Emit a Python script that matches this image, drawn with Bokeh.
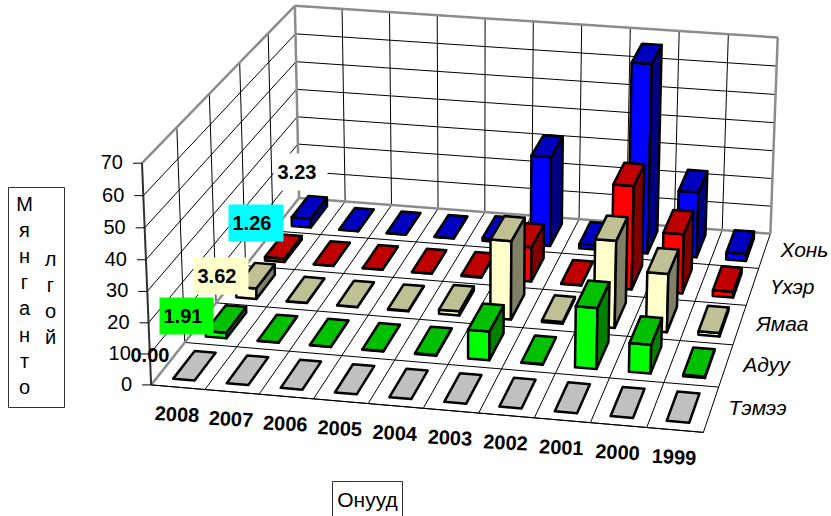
import numpy as np
from bokeh.plotting import figure
from bokeh.models import Range1d
from bokeh.core.properties import value
from bokeh.embed import file_html
from bokeh.resources import INLINE

years = ["2008","2007","2006","2005","2004","2003","2002","2001","2000","1999"]
series = ["Тэмээ","Адуу","Ямаа","Үхэр","Хонь"]
temee = [0,0,0,0,0,0,0,0,0,0]
aduu  = [1.91,0.1,0.1,0.1,0.3,9.5,0.2,20,9.5,0.5]
yamaa = [3.62,0.1,0.1,0.2,1.4,26.5,0.6,29.3,19.6,1.2]
ukher = [1.26,0.1,0.1,0.1,0.3,12,0.2,35.7,20.5,2]
khoni = [3.23,0.1,0.1,0.1,1,31.7,1.5,66.5,23,2.5]
values = [temee,aduu,yamaa,ukher,khoni]
front = ["#C0C0C0","#00FF00","#FFFFCC","#FF0000","#0000FF"]
top_c = ["#C0C0C0","#00C000","#C0C095","#C00000","#0000C0"]
side  = ["#909090","#008000","#808066","#800000","#000080"]
ticks = [0,10,20,30,40,50,60,70]
labels = ["0.00","1.91","3.62","1.26","3.23"]
label_bg = [None,"#00FF00","#FFFFCC","#00FFFF","#FFFFFF"]
label_box = [(126,336,180,372),(159,297,213,334),(193,257,248,294),(228,204,283,241),(273,153,327,190)]
series_pos = [(757,407),(766,364),(782,323),(792,286),(804,249)]
title_col1 = ["М","я","н","г","а","н","т","о"]
title_col2 = ["л","г","о","й"]

# camera calibration: box corners (year, depth, value) -> page pixels
anchors = [((0,0,0),(151,384)),((10,0,0),(703,432)),((0,5,0),(298,198)),((10,5,0),(770,233)),
           ((0,0,70),(141,163)),((0,5,70),(295,5)),((10,5,70),(777,37))]
A=[]
for (X,Y,Z),(u,v) in anchors:
    A.append([X,Y,Z,1,0,0,0,0,-u*X,-u*Y,-u*Z,-u])
    A.append([0,0,0,0,X,Y,Z,1,-v*X,-v*Y,-v*Z,-v])
P=np.linalg.svd(np.array(A,float))[2][-1].reshape(3,4)
def proj(X,Y,Z):
    h=P@np.array([X,Y,Z,1.0])
    return h[0]/h[2],h[1]/h[2]

p=figure(width=831,height=516,output_backend="svg",toolbar_location=None,
         x_range=Range1d(0,831),y_range=Range1d(516,0),min_border=0,outline_line_color=None,
         styles={"position":"absolute","left":"0px","top":"0px"})
p.axis.visible=False
p.grid.visible=False

GRAY="#8C8C8C"
FONT=value("Liberation Sans")
def quad(pts,**kw):
    xs,ys=zip(*[proj(*q) for q in pts])
    p.patch(list(xs),list(ys),**kw)
def line(a,b,color="#000000",w=1):
    pa,pb=proj(*a),proj(*b)
    p.line([pa[0],pb[0]],[pa[1],pb[1]],line_color=color,line_width=w)

# walls gridlines
for t in ticks[1:]:
    line((0,0,t),(0,5,t),"#000000",1)
    line((0,5,t),(10,5,t),"#000000",1)
for i in range(1,10):
    line((i,5,0),(i,5,70),"#000000",1)
for j in range(1,5):
    line((0,j,0),(0,j,70),"#000000",1)
# floor gridlines
for i in range(0,11):
    line((i,0,0),(i,5,0),"#000000",1)
for j in range(0,5):
    line((0,j,0),(10,j,0),"#000000",1)
# frame
for a,b in [((0,0,70),(0,5,70)),((0,5,70),(10,5,70)),((10,5,70),(10,5,0)),((0,5,0),(10,5,0)),
            ((0,5,0),(0,0,0)),((0,5,0),(0,5,70))]:
    line(a,b,GRAY,2.5)
line((0,0,0),(0,0,70),"#303030",2)
line((0,0,0),(10,0,0),"#000000",1)

# ticks
for t in ticks:
    x,y=proj(0,0,t)
    p.line([x-9,x],[y,y],line_color="#000000",line_width=1)
    p.text([x-19],[y-1],text=[str(t)],text_font=FONT,text_font_size="20px",
           text_align="right",text_baseline="middle",text_color="#000000")

# bars, back to front, left to right
gw=0.30; gd=0.175
for j in range(4,-1,-1):
    for i in range(10):
        h=values[j][i]
        x0,x1=i+gw,i+1-gw
        y0,y1=j+gd,j+1-gd
        kw=dict(line_color="#000000",line_width=2.5,line_join="round")
        if h>0:
            quad([(x0,y0,0),(x1,y0,0),(x1,y0,h),(x0,y0,h)],fill_color=front[j],**kw)
            quad([(x1,y0,0),(x1,y1,0),(x1,y1,h),(x1,y0,h)],fill_color=side[j],**kw)
        quad([(x0,y0,h),(x1,y0,h),(x1,y1,h),(x0,y1,h)],fill_color=top_c[j],**kw)

# year labels
for i,yr in enumerate(years):
    x,y=proj(i+0.5,0,0)
    p.text([x-1],[y+27],text=[yr],text_font=FONT,text_font_style="bold",
           text_font_size="20px",text_align="center",text_baseline="middle",angle=-0.05)
# series labels
for s,(x,y) in zip(series,series_pos):
    p.text([x],[y],text=[s],text_font=FONT,text_font_style="italic",
           text_font_size="21px",text_align="center",text_baseline="middle",text_color="#000000")
# data labels
for lab,bg,(x0,y0,x1,y1) in zip(labels,label_bg,label_box):
    if bg:
        p.quad(left=[x0],right=[x1],top=[y0],bottom=[y1],fill_color=bg,line_color=None)
    p.text([x0+4],[(y0+y1)/2],text=[lab],text_font=FONT,text_font_style="bold",
           text_font_size="20px",text_align="left",text_baseline="middle")
# axis title boxes
p.rect([36],[297],width=56,height=220,fill_color="#FFFFFF",line_color="#303030",line_width=1)
for k,ch in enumerate(title_col1):
    p.text([24],[203+26.2*k],text=[ch],text_font=FONT,text_font_size="20px",
           text_align="center",text_baseline="middle")
for k,ch in enumerate(title_col2):
    p.text([50],[258+26.2*k],text=[ch],text_font=FONT,text_font_size="20px",
           text_align="center",text_baseline="middle")
p.rect([367],[503],width=70,height=44,fill_color="#FFFFFF",line_color="#303030",line_width=1)
p.text([367],[499],text=["Онууд"],text_font=FONT,text_font_size="21px",
       text_align="center",text_baseline="middle")

open("out.html","w").write(file_html(p,INLINE))
